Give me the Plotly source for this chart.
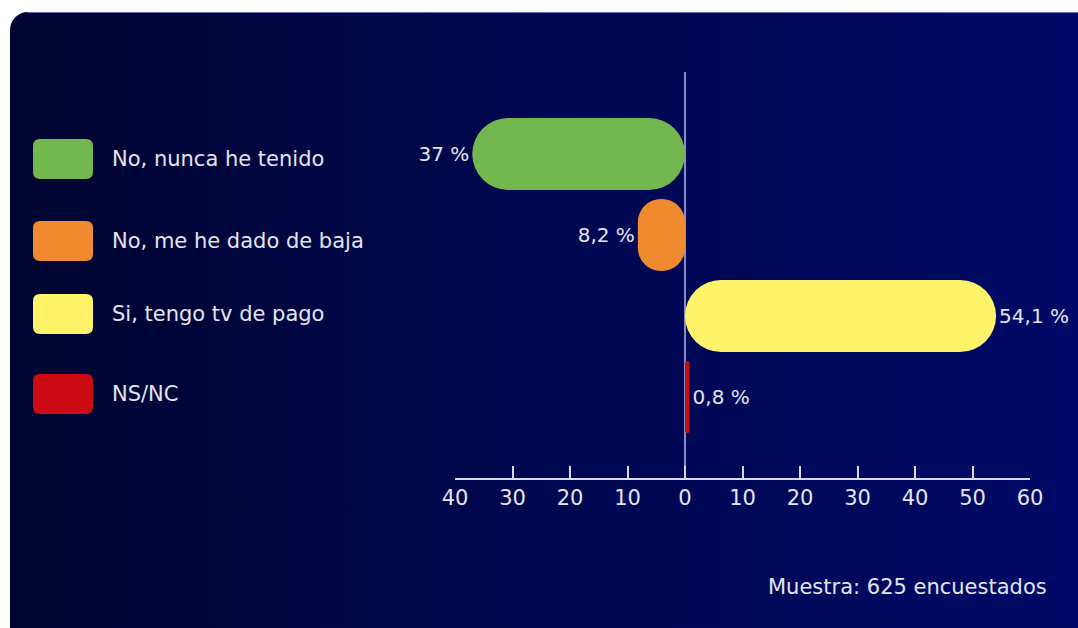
import base64
import plotly.graph_objects as go

# ---- data ----
categories = ["No, nunca he tenido", "No, me he dado de baja", "Si, tengo tv de pago", "NS/NC"]
values = [-37.0, -8.2, 54.1, 0.8]          # signed: left of zero = "No" answers
colors = ["#72b84e", "#ef8a2e", "#fff36a", "#cc0a14"]
tick_vals = [-40, -30, -20, -10, 0, 10, 20, 30, 40, 50, 60]
tick_text = ["40", "30", "20", "10", "0", "10", "20", "30", "40", "50", "60"]
footer = "Muestra: 625 encuestados"

def fmt(v):
    a = abs(v)
    s = f"{a:.1f}".replace(".", ",")
    if s.endswith(",0"):
        s = s[:-2]
    return s + " %"

labels = [fmt(v) for v in values]

# ---- layout geometry ----
W, H = 1078, 628
ML, MR, MT, MB = 455, 48, 72, 150
PW, PH = W - ML - MR, H - MT - MB
FONT = "DejaVu Sans"
TXT = "#e4e4f0"

def px_x(p):
    return (p - ML) / PW

def px_y(p):
    return 1 - (p - MT) / PH

ypos = list(range(len(categories)))

fig = go.Figure()
fig.add_trace(go.Bar(
    y=ypos, x=values, base=[0] * len(values), orientation="h",
    marker=dict(color=colors, line=dict(width=0), cornerradius="50%"),
    width=0.89, text=labels, textposition="outside", constraintext="none",
    textfont=dict(family=FONT, size=20, color=TXT), cliponaxis=False,
    hoverinfo="skip", showlegend=False,
))

# background panel (gradient, rounded corner) as SVG image
svg = f'''<svg xmlns="http://www.w3.org/2000/svg" width="{W}" height="{H}" viewBox="0 0 {W} {H}">
<defs><linearGradient id="g" x1="0" y1="0" x2="1" y2="0">
<stop offset="0" stop-color="#000530"/><stop offset="0.5" stop-color="#000852"/>
<stop offset="1" stop-color="#000a68"/></linearGradient></defs>
<rect x="10" y="12" width="{W+40}" height="{H-12+20}" rx="18" ry="18" fill="url(#g)"/>
<line x1="28" y1="12.5" x2="{W}" y2="12.5" stroke="#6a6cb8" stroke-width="1"/>
</svg>'''
src = "data:image/svg+xml;base64," + base64.b64encode(svg.encode()).decode()

shapes = []
annotations = []
# legend swatches + labels
sw_x0, sw_x1 = 33, 93
sw_centers = [159, 241, 314, 394]
for cat, col, cy in zip(categories, colors, sw_centers):
    y0p, y1p = cy - 20, cy + 20
    r = 7
    xa, xb = px_x(sw_x0), px_x(sw_x1)
    ya, yb = px_y(y0p), px_y(y1p)
    rx, ry = r / PW, r / PH
    path = (f"M {xa+rx},{ya} L {xb-rx},{ya} Q {xb},{ya} {xb},{ya-ry} "
            f"L {xb},{yb+ry} Q {xb},{yb} {xb-rx},{yb} L {xa+rx},{yb} "
            f"Q {xa},{yb} {xa},{yb+ry} L {xa},{ya-ry} Q {xa},{ya} {xa+rx},{ya} Z")
    shapes.append(dict(type="path", path=path, xref="paper", yref="paper",
                       fillcolor=col, line=dict(width=0), layer="above"))
    annotations.append(dict(text=cat, xref="paper", yref="paper", x=px_x(110),
                            y=px_y(cy), xanchor="left", yanchor="middle", showarrow=False,
                            font=dict(family=FONT, size=21, color=TXT)))

annotations.append(dict(text=footer, xref="paper", yref="paper", x=px_x(1049),
                        y=px_y(587), xanchor="right", yanchor="middle", showarrow=False,
                        font=dict(family=FONT, size=21, color=TXT)))

fig.update_layout(
    width=W, height=H, margin=dict(l=ML, r=MR, t=MT, b=MB),
    paper_bgcolor="white", plot_bgcolor="rgba(0,0,0,0)",
    showlegend=False,
    images=[dict(source=src, xref="paper", yref="paper", x=-ML / PW, y=1 + MT / PH,
                 sizex=W / PW, sizey=H / PH, sizing="stretch", xanchor="left",
                 yanchor="top", layer="below")],
    shapes=shapes, annotations=annotations,
    xaxis=dict(range=[-40, 60], tickvals=tick_vals, ticktext=tick_text,
               showgrid=False, zeroline=True, zerolinecolor="#8a8cc8", zerolinewidth=2,
               showline=True, linecolor="#d8d8e8", linewidth=2,
               ticks="inside", ticklen=12, tickwidth=2, tickcolor="#d8d8e8",
               tickfont=dict(family=FONT, size=21, color=TXT), fixedrange=True),
    yaxis=dict(range=[4.0, -1.012], visible=False, fixedrange=True),
)

fig.write_html("out.html", config={"displayModeBar": False},
               post_script="document.body.style.margin='0';")
